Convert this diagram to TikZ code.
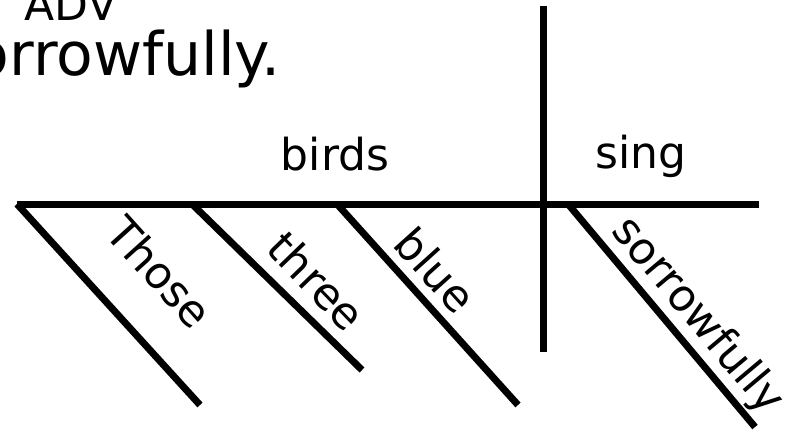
\documentclass[tikz,border=0pt]{standalone}
\usepackage{fontspec}
\setmainfont{DejaVu Sans}
\usetikzlibrary{positioning}
\tikzset{x=1pt,y=-1pt,
  rule/.style={line width=7pt,line cap=butt,black},
  word/.style={font=\fontsize{44}{50}\selectfont,inner sep=0pt},
  bigword/.style={font=\fontsize{60}{66}\selectfont,inner sep=0pt},
  slant/.style={word,anchor=center}}
\begin{document}
\begin{tikzpicture}
  \useasboundingbox (0,0) rectangle (792,431);
  % sentence, cut off at the left edge
  \node[word,anchor=base] (adv) at (71,20) {ADV};
  \node[bigword,anchor=base east] (sent) at (281,75) {sorrowfully.};
  % main line and divider
  \coordinate (l0) at (17,204);
  \coordinate (l1) at (759,204);
  \coordinate (d0) at (543,6);
  \coordinate (d1) at (543,352);
  \draw[rule] (l0) -- (l1);
  \draw[rule] (d0) -- (d1);
  \node[word,anchor=base] (subj) at (335,170) {birds};
  \node[word,anchor=base] (verb) at (641,168) {sing};
  % modifiers
  \coordinate (m1a) at (17,204);  \coordinate (m1b) at (200,405);
  \coordinate (m2a) at (192,204); \coordinate (m2b) at (362,370);
  \coordinate (m3a) at (337,204); \coordinate (m3b) at (518,405);
  \coordinate (m4a) at (568,204); \coordinate (m4b) at (755,427);
  \draw[rule] (m1a) -- (m1b);
  \draw[rule] (m2a) -- (m2b);
  \draw[rule] (m3a) -- (m3b);
  \draw[rule] (m4a) -- (m4b);
  \node[slant,rotate=-48] (those) at (160,272) {Those};
  \node[slant,rotate=-46] (three) at (317,281) {three};
  \node[slant,rotate=-48] (blue) at (436,270) {blue};
  \node[slant,rotate=-50] (adverb) at (697,316) {sorrowfully};
\end{tikzpicture}
\end{document}
